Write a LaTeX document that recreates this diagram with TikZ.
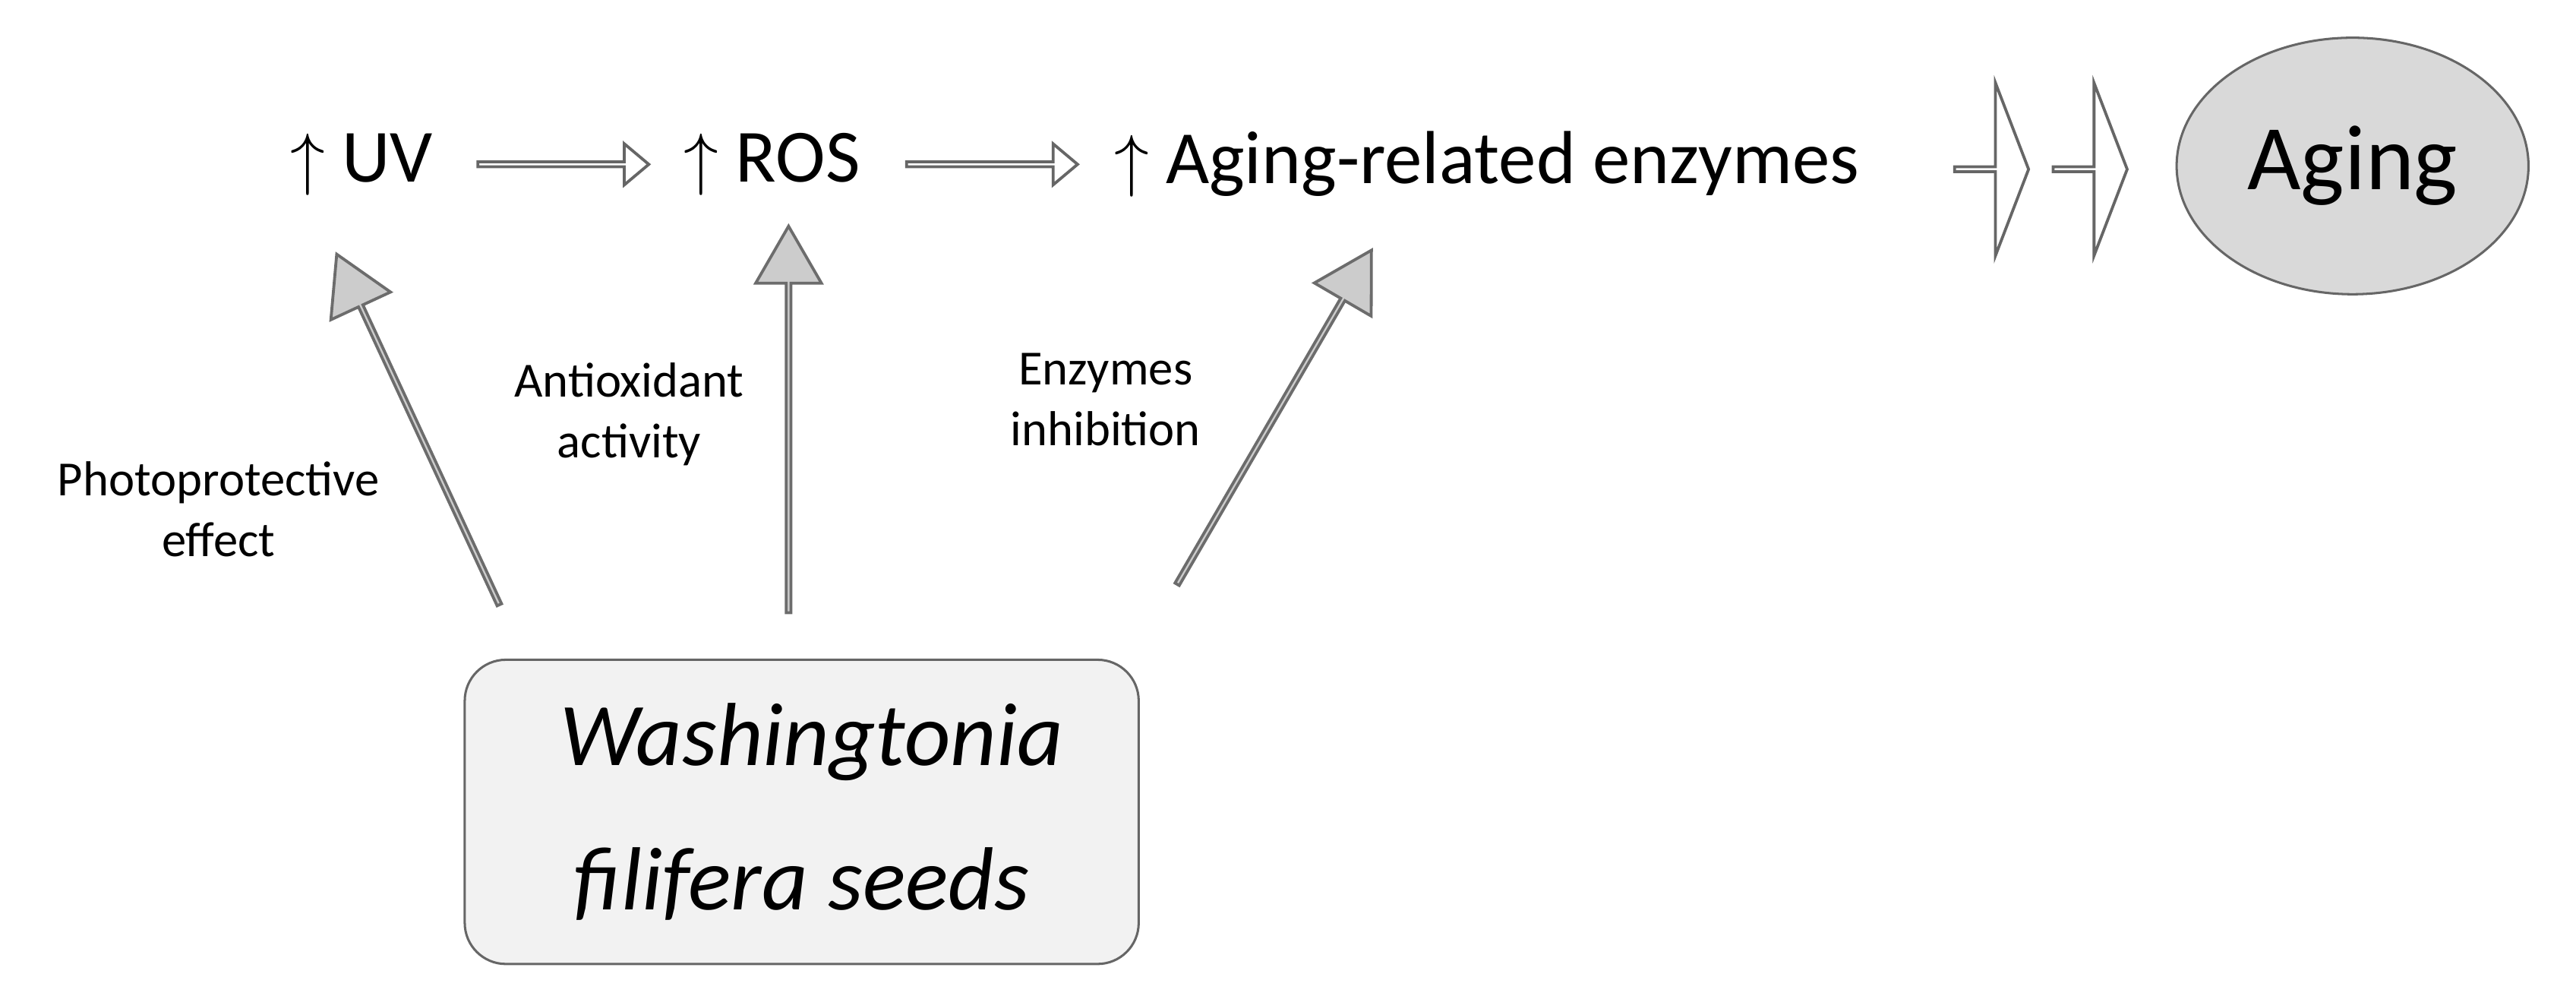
\documentclass[tikz,border=0pt]{standalone}
\usepackage{fontspec}
\setmainfont{Carlito}
\usetikzlibrary{shapes.arrows,shapes.geometric}
\tikzset{
  stage/.style={font=\fontsize{13}{15}\selectfont, inner sep=0pt},
  lbl/.style={font=\fontsize{8.5}{10.5}\selectfont, align=center, inner sep=0pt},
  hollow/.style={single arrow, draw=gray!80!black, fill=white, line width=0.5pt, inner sep=0pt,
    minimum height=1.04cm, minimum width=0.25cm, single arrow head extend=0.065cm, single arrow tip angle=80},
  chev/.style={single arrow, draw=gray!80!black, fill=white, line width=0.5pt, inner sep=0pt,
    minimum height=0.45cm, minimum width=1.05cm, single arrow head extend=0.3cm, single arrow tip angle=138},
  fat/.style={single arrow, draw=gray!85!black, fill=gray!40, line width=0.5pt, inner sep=0pt,
    minimum height=2.35cm, minimum width=0.4cm, single arrow head extend=0.11cm, single arrow tip angle=60}
}
\begin{document}
\begin{tikzpicture}[x=0.01cm,y=0.01cm]
    \useasboundingbox (0,0) rectangle (1568,606);

    % top chain
    \node[stage] (uv) at (220,506) {$\uparrow$ UV};
    \node[stage] (ros) at (470,506) {$\uparrow$ ROS};
    \node[stage] (enz) at (905,506) {$\uparrow$ Aging-related enzymes};
    \node[hollow] (h1) at (342,506) {};
    \node[hollow] (h2) at (603,506) {};
    \node[chev] (c1) at (1212,503) {};
    \node[chev] (c2) at (1272,503) {};
    \node[ellipse, draw=gray!80!black, fill=gray!30, minimum width=2cm, minimum height=1.56cm,
      font=\fontsize{16}{18}\selectfont] (aging) at (1432,505) {Aging};

    % source
    \node[draw=gray!80!black, fill=gray!10, rounded corners=0.25cm, minimum width=4.1cm,
      minimum height=1.85cm, align=center, font=\fontsize{15.5}{25}\selectfont\itshape] (seeds) at (488,112) {\hspace*{0.12cm}Washingtonia\\filifera seeds};

    % effects
    \node[fat, rotate=114.9] (a1) at (255,343.5) {};
    \node[fat, rotate=90] (a2) at (480,349.5) {};
    \node[fat, rotate=59.8] (a3) at (775,351) {};
    \node[lbl] (l1) at (133,296) {Photoprotective\\effect};
    \node[lbl] (l2) at (383,354) {Antioxidant\\activity};
    \node[lbl] (l3) at (673,363) {Enzymes\\inhibition};
\end{tikzpicture}
\end{document}
